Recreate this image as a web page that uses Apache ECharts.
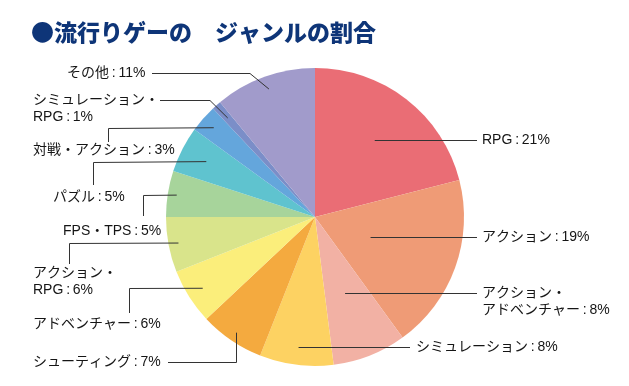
<!DOCTYPE html>
<html><head><meta charset="utf-8">
<script src="https://cdn.jsdelivr.net/npm/echarts@6/dist/echarts.min.js"></script>
<style>html,body{margin:0;padding:0;background:#fff}#c{width:629px;height:386px}</style>
</head><body><div id="c"></div>
<script>
// ---- data ----
const titleText = '●流行りゲーの　ジャンルの割合';
const categories = ['RPG', 'アクション', 'アクション・\nアドベンチャー', 'シミュレーション', 'シューティング', 'アドベンチャー', 'アクション・\nRPG', 'FPS・TPS', 'パズル', '対戦・アクション', 'シミュレーション・\nRPG', 'その他'];
const shares = [21, 19, 8, 8, 7, 6, 6, 5, 5, 3, 1, 11];
const sliceColors = ['#ea6d75', '#ef9b76', '#f2b1a4', '#fdd262', '#f4aa3f', '#fbee7b', '#d9e48b', '#a7d49b', '#5fc3cf', '#64a6dc', '#7b8ec8', '#a19bcb'];

// ---- layout ----
const CENTER = [315, 217];
const RADIUS = 149;
const LINE_H = 17;
const labelLayouts = [
  {kind: 'h', x: 482, y: 140, lineEnd: 477},
  {kind: 'h', x: 482, y: 237, lineEnd: 477},
  {kind: 'h', x: 482, y: 293, lineEnd: 477, lines: 2},
  {kind: 'h', x: 416, y: 347, lineEnd: 410},
  {kind: 'down', d: 140, x: 33, y: 362, lineEnd: 168},
  {kind: 'v', d: 133, vx: 129, vEnd: 313, x: 33, y: 324},
  {kind: 'v', d: 139, vx: 69, vEnd: 264, x: 33, y: 282},
  {kind: 'v', d: 140, vx: 143, vEnd: 216, x: 63, y: 231},
  {kind: 'v', d: 122, vx: 93, vEnd: 185, x: 53, y: 197},
  {kind: 'v', d: 135, vx: 108, vEnd: 142, x: 33, y: 150},
  {kind: 'diag', d: 132, bendX: 210, lineY: 100, lineEnd: 160, x: 33, y: 108.5},
  {kind: 'diag', d: 136, bendX: 250, lineY: 73, lineEnd: 152, x: 67, y: 73}
];

function layoutLabel(params) {
  const L = labelLayouts[params.dataIndex];
  const y = (L.kind === 'h' && L.lines === 2) ? L.y + LINE_H / 2 : L.y;
  return {x: L.x, y: y, align: 'left', verticalAlign: 'middle'};
}

const chart = echarts.init(document.getElementById('c'), null, {renderer: 'canvas'});
chart.setOption({
  animation: false,
  backgroundColor: '#ffffff',
  title: {
    text: titleText, left: 31, top: 21, padding: 0,
    textStyle: {fontSize: 23, fontWeight: 900, color: '#0e3578', fontFamily: '"Noto Sans CJK JP", sans-serif'}
  },
  series: [{
    type: 'pie',
    center: CENTER,
    radius: RADIUS,
    startAngle: 90,
    clockwise: true,
    avoidLabelOverlap: false,
    silent: true,
    itemStyle: {borderWidth: 0},
    label: {
      show: true, position: 'outside',
      formatter: p => p.name + '\u2009:\u2009' + p.value + '%',
      color: '#151515', fontSize: 14, lineHeight: LINE_H,
      fontFamily: '"Liberation Sans", "Noto Sans CJK JP", sans-serif'
    },
    labelLine: {show: false},
    labelLayout: layoutLabel,
    data: categories.map((c, i) => ({name: c, value: shares[i], itemStyle: {color: sliceColors[i]}}))
  }]
});

// leader lines: anchored on each slice's mid-angle taken from the pie layout of ECharts
const pieData = chart.getModel().getSeriesByIndex(0).getData();
const h = v => Math.round(v) + 0.5;
const lines = labelLayouts.map((L, i) => {
  const lay = pieData.getItemLayout(i);
  const mid = (lay.startAngle + lay.endAngle) / 2;
  const dx = Math.cos(mid), dy = Math.sin(mid);
  const cx = lay.cx, cy = lay.cy;
  let pts;
  if (L.kind === 'h') {
    const t = (L.y - cy) / dy;
    pts = [[cx + dx * t, h(L.y)], [L.lineEnd, h(L.y)]];
  } else {
    const A = [cx + dx * L.d, cy + dy * L.d];
    if (L.kind === 'down') pts = [A, [h(A[0]), A[1]], [h(A[0]), h(L.y)], [L.lineEnd, h(L.y)]];
    else if (L.kind === 'v') pts = [A, [h(L.vx), h(A[1])], [h(L.vx), L.vEnd]];
    else pts = [A, [L.bendX, h(L.lineY)], [L.lineEnd, h(L.lineY)]];
  }
  return {type: 'polyline', silent: true, z: 100, shape: {points: pts},
          style: {stroke: '#333', lineWidth: 1, fill: null}};
});
chart.setOption({graphic: lines});
</script></body></html>
